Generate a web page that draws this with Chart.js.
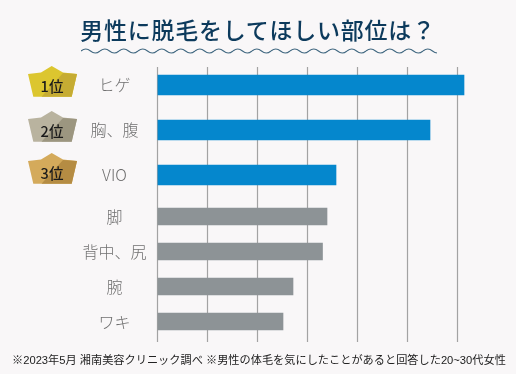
<!DOCTYPE html>
<html>
<head>
<meta charset="utf-8" />
<title>男性に脱毛をしてほしい部位は？</title>
<script src="https://cdn.jsdelivr.net/npm/chart.js"></script>
<style>
  html, body { margin: 0; padding: 0; background: #f9f7f8; }
  #wrap { position: relative; width: 516px; height: 374px; overflow: hidden; font-family: "Noto Sans CJK JP", sans-serif; }
  #chart { position: absolute; left: 0; top: 0; }
  #title { position: absolute; left: 0; width: 516px; top: 13px; text-align: center; font-size: 23px; line-height: 32px; font-weight: 500; letter-spacing: 0.75px; color: #0c3a5c; white-space: nowrap; }
  #wave { position: absolute; left: 81px; top: 47px; }
  #note { position: absolute; left: 12px; top: 351px; font-family: "Liberation Sans", "Noto Sans CJK JP", sans-serif; font-size: 11.2px; line-height: 18px; color: #222; white-space: nowrap; }
</style>
</head>
<body>
<div id="wrap">
  <canvas id="chart" width="516" height="374"></canvas>
  <div id="title">男性に脱毛をしてほしい部位は？</div>
  <svg id="wave" width="356" height="8"><defs><pattern id="w" width="19" height="8" patternUnits="userSpaceOnUse"><path d="M0 4 Q4.75 0 9.5 4 T19 4" fill="none" stroke="#3f6680" stroke-width="1.1"/></pattern></defs><rect width="356" height="8" fill="url(#w)"/></svg>
  <div id="note">※2023年5月 湘南美容クリニック調べ ※男性の体毛を気にしたことがあると回答した20~30代女性</div>
</div>
<script>
  const topLabels = ['ヒゲ', '胸、腹', 'VIO'];
  const topValues = [61.3, 54.5, 35.7];
  const restLabels = ['脚', '背中、尻', '腕', 'ワキ'];
  const restValues = [33.9, 33, 27.1, 25.1];
  const rankLabels = ['1位', '2位', '3位'];

  const crownColors = [['#dcc62f', '#c6ac33'], ['#b9b39f', '#9c9680'], ['#d4aa5b', '#b58c43']];
  const crownShift = [0, 0, -3];

  function poly(ctx, pts, color) {
    ctx.fillStyle = color;
    ctx.beginPath();
    pts.forEach((p, i) => i ? ctx.lineTo(p[0], p[1]) : ctx.moveTo(p[0], p[1]));
    ctx.closePath();
    ctx.fill();
  }

  // grid only runs 67..342, the chart area is a little taller than that
  const gridLines = {
    id: 'gridLines',
    beforeDatasetsDraw(chart) {
      const ctx = chart.ctx, x = chart.scales.x;
      ctx.save();
      ctx.strokeStyle = '#a3a3a3';
      ctx.lineWidth = 1.2;
      x.ticks.forEach(t => {
        const px = x.getPixelForValue(t.value);
        ctx.beginPath();
        ctx.moveTo(px, 67);
        ctx.lineTo(px, 342);
        ctx.stroke();
      });
      ctx.restore();
    }
  };

  const crowns = {
    id: 'crowns',
    afterDatasetsDraw(chart) {
      const ctx = chart.ctx, y = chart.scales.y;
      ctx.save();
      rankLabels.forEach((label, i) => {
        const c = y.getPixelForValue(i) + crownShift[i];
        poly(ctx, [[28, c - 11], [41, c - 12.5], [51.7, c - 19], [63, c - 12.5], [77, c - 11], [71.7, c + 11.7], [33.3, c + 11.7]], crownColors[i][0]);
        poly(ctx, [[41.5, c + 11.7], [63, c - 12], [77, c - 11], [71.7, c + 11.7]], crownColors[i][1]);
        ctx.fillStyle = '#1a1a1a';
        ctx.font = '500 14.5px "Noto Sans CJK JP"';
        ctx.textAlign = 'center';
        ctx.textBaseline = 'middle';
        ctx.fillText(label, 52, c + 1);
      });
      ctx.restore();
    }
  };

  function labelAxis(labels, weight, padding) {
    return {
      type: 'category',
      axis: 'y',
      labels: labels,
      stack: 'rows',
      stackWeight: weight,
      offset: true,
      afterFit(s) { s.width = 157.5; },
      grid: { display: false, drawTicks: false },
      border: { display: false },
      ticks: { autoSkip: false, crossAlign: 'center', padding: padding, color: '#707070', font: { family: '"Noto Sans CJK JP"', size: 16, weight: 300 } }
    };
  }

  new Chart(document.getElementById('chart'), {
    type: 'bar',
    data: {
      datasets: [
        { data: topValues, yAxisID: 'y', backgroundColor: '#0587cd', barThickness: 20, grouped: false },
        { data: restValues, yAxisID: 'y2', backgroundColor: '#8d9396', barThickness: 17, grouped: false }
      ]
    },
    options: {
      indexAxis: 'y',
      responsive: false,
      animation: false,
      layout: { padding: { top: 62.5, right: 33.5, bottom: 35, left: 0 } },
      plugins: { legend: { display: false }, title: { display: false }, tooltip: { enabled: false } },
      scales: {
        x: {
          min: 0,
          max: 65,
          grid: { display: false, drawTicks: false },
          border: { display: false },
          ticks: { display: false, stepSize: 10, includeBounds: false }
        },
        // stacked axes are placed bottom first, so the lower group comes first here
        y2: labelAxis(restLabels, 140, 11),
        yGap: Object.assign(labelAxis([''], 1.5, 0), { ticks: { display: false } }),
        y: labelAxis(topLabels, 135, 19)
      }
    },
    plugins: [gridLines, crowns]
  });
</script>
</body>
</html>
